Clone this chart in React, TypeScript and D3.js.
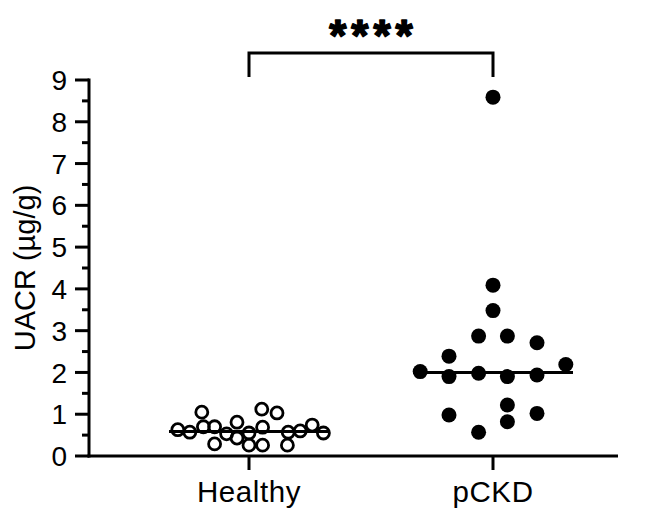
import * as d3 from "d3";

// UACR per group; jitter = horizontal spread inside the group (-1..1)
const groups = ["Healthy", "pCKD"];
const healthyValues = [0.63, 0.57, 1.05, 0.7, 0.7, 0.29, 0.53, 0.81, 0.43, 0.55, 0.26, 1.12, 0.69, 0.26, 1.03, 0.26, 0.57, 0.6, 0.74, 0.55];
const healthyJitter = [-0.89, -0.74, -0.59, -0.57, -0.43, -0.43, -0.28, -0.15, -0.15, 0, 0, 0.16, 0.17, 0.17, 0.35, 0.48, 0.49, 0.64, 0.79, 0.93];
const pckdValues = [8.59, 4.09, 3.48, 2.87, 2.87, 2.71, 2.39, 2.02, 1.9, 1.98, 1.9, 1.94, 2.19, 0.98, 1.22, 1.02, 0.82, 0.57];
const pckdJitter = [0, 0, 0, -0.18, 0.18, 0.55, -0.55, -0.91, -0.55, -0.18, 0.18, 0.55, 0.91, -0.55, 0.18, 0.55, 0.18, -0.18];
const yTicks = [0, 1, 2, 3, 4, 5, 6, 7, 8, 9];
const yMinorTicks = [0.5, 1.5, 2.5, 3.5, 4.5, 5.5, 6.5, 7.5, 8.5];
const significance = "****";

const W = 651;
const H = 510;
const font = "'Liberation Sans', Arial, Helvetica, sans-serif";

export default function App() {
  const left = 89;
  const right = 618;
  const y = d3.scaleLinear().domain([0, 9]).range([456, 80]);
  const x = d3.scalePoint<string>().domain(groups).range([249, 493]);
  const jitter = d3.scaleLinear().domain([-1, 1]).range([-80, 80]);
  const y0 = y(0);

  const series = [
    { name: "Healthy", values: healthyValues, jit: healthyJitter, open: true },
    { name: "pCKD", values: pckdValues, jit: pckdJitter, open: false },
  ];

  const bx1 = x("Healthy")!;
  const bx2 = x("pCKD")!;
  const bTop = 53;
  const bBottom = 77;

  return (
    <svg width={W} height={H} style={{ position: "absolute", left: 0, top: 0, background: "#fff" }}>
      {/* medians */}
      {series.map((s) => {
        const cx = x(s.name)!;
        const m = d3.median(s.values)!;
        return (
          <line key={"m" + s.name} x1={cx + jitter(-1)} x2={cx + jitter(1)} y1={y(m)} y2={y(m)} stroke="#000" strokeWidth={3} />
        );
      })}

      {/* points */}
      {series.map((s) =>
        s.values.map((v, i) => (
          <circle
            key={s.name + i}
            cx={x(s.name)! + jitter(s.jit[i])}
            cy={y(v)}
            r={s.open ? 6 : 7.5}
            fill={s.open ? "#fff" : "#000"}
            fillOpacity={s.open ? 0 : 1}
            stroke={s.open ? "#000" : "none"}
            strokeWidth={2.8}
          />
        ))
      )}

      {/* y axis */}
      <line x1={left} x2={left} y1={y(9) - 1.5} y2={y0 + 1.5} stroke="#000" strokeWidth={3} />
      {yTicks.map((t) => (
        <g key={"yt" + t}>
          <line x1={left - 14} x2={left} y1={y(t)} y2={y(t)} stroke="#000" strokeWidth={3} />
          <text x={left - 22} y={y(t)} dy="0.36em" textAnchor="end" fontFamily={font} fontSize={28} fill="#000">
            {t}
          </text>
        </g>
      ))}
      {yMinorTicks.map((t) => (
        <line key={"ym" + t} x1={left - 7} x2={left} y1={y(t)} y2={y(t)} stroke="#000" strokeWidth={3} />
      ))}
      <text
        transform={`translate(25,${(y(0) + y(9)) / 2}) rotate(-90)`}
        textAnchor="middle"
        dy="0.36em"
        fontFamily={font}
        fontSize={29}
        fill="#000"
      >
        UACR (µg/g)
      </text>

      {/* x axis */}
      <line x1={left - 1.5} x2={right} y1={y0} y2={y0} stroke="#000" strokeWidth={3} />
      {groups.map((g) => (
        <g key={"xt" + g}>
          <line x1={x(g)!} x2={x(g)!} y1={y0} y2={y0 + 14} stroke="#000" strokeWidth={3} />
          <text x={x(g)!} y={y0 + 46} textAnchor="middle" fontFamily={font} fontSize={29.5} letterSpacing={0.6} fill="#000">
            {g}
          </text>
        </g>
      ))}

      {/* significance bracket */}
      <path
        d={`M${bx1},${bBottom}V${bTop}H${bx2}V${bBottom}`}
        fill="none"
        stroke="#000"
        strokeWidth={3}
      />
      <text
        x={(bx1 + bx2) / 2 + 2.5}
        y={51}
        textAnchor="middle"
        fontFamily={font}
        fontWeight="bold"
        fontSize={44}
        letterSpacing={5}
        fill="#000"
        stroke="#000"
        strokeWidth={1.6}
        strokeLinejoin="round"
      >
        {significance}
      </text>
    </svg>
  );
}
